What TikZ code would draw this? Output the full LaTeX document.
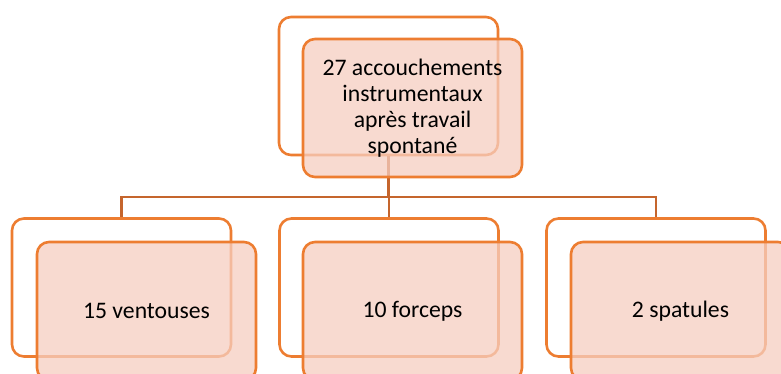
\documentclass[tikz,border=0pt]{standalone}
\usepackage{fontspec}
\setmainfont{Carlito}
\usepackage{tikz}
\definecolor{orangebord}{HTML}{ED7D31}
\definecolor{orangefond}{HTML}{F6CEC0}
\definecolor{orangelien}{HTML}{C5652D}
\tikzset{
    cadre/.style={
           rectangle,
           rounded corners=12pt,
           draw=orangebord, line width=2.6pt,
           inner sep=0pt,
           minimum width=219pt,
           minimum height=138pt},
    cadreav/.style={
           cadre,
           fill=orangefond, fill opacity=0.75, text opacity=1,
           align=center,
           font=\fontsize{23.7}{26}\selectfont},
    lien/.style={
           draw=orangelien, line width=2.4pt}
    }
\begin{document}
\begin{tikzpicture}[x=1pt,y=-1pt]
      \useasboundingbox (0,0) rectangle (781,374);
      \clip (0,0) rectangle (781,374);
      \node[cadre] (f0) at (388.5,86) {};
      \node[cadre] (f1) at (121.5,287.5) {};
      \node[cadre] (f2) at (389,287.5) {};
      \node[cadre] (f3) at (656,287.5) {};
      \coordinate (bus) at (0,197);
      \draw[lien] (f0.south) -- (f0.south |- bus) -| (f1.north);
      \draw[lien] (f0.south) -- (f0.south |- bus) -| (f2.north);
      \draw[lien] (f0.south) -- (f0.south |- bus) -| (f3.north);
      \node[cadreav] (a0) at (412.5,108) {27 accouchements\\instrumentaux\\après travail\\spontané};
      \node[cadreav] (a1) at (146.5,311) {15 ventouses};
      \node[cadreav] (a2) at (412.5,311) {10 forceps};
      \node[cadreav] (a3) at (680.5,311) {2 spatules};
\end{tikzpicture}
\end{document}
